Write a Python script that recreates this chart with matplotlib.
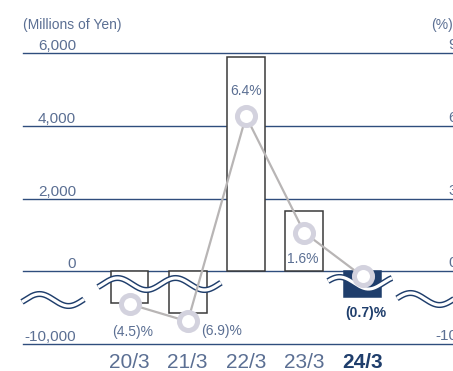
import numpy as np
import matplotlib
matplotlib.use('Agg')
import matplotlib.pyplot as plt
from matplotlib.transforms import blended_transform_factory

# =============================================================================
# DATA
# =============================================================================

YEARS = ['20/3', '21/3', '22/3', '23/3', '24/3']
NET_INCOME = [-4300, -5800, 5900, 1650, -3600]
MARGIN = [-4.5, -6.9, 6.4, 1.6, -0.7]                # %
MARGIN_LABELS = ['(4.5)%', '(6.9)%', '6.4%', '1.6%', '(0.7)%']

LEFT_TICKS = [6000, 4000, 2000, 0, -10000]
LEFT_TICK_LABELS = ['6,000', '4,000', '2,000', '0', '-10,000']
RIGHT_TICKS = [9, 6, 3, 0, -10]
RIGHT_TICK_LABELS = ['9', '6', '3', '0', '-10']

# =============================================================================
# STYLE
# =============================================================================

W, H = 453, 371
TXT = '#5b6f93'
NAVY = '#1f3e6c'
GRID = '#2f4d7d'
BAR_EDGE = '#3a3a3a'
LINE_GRAY = '#b8b5b5'
MARK_EDGE = '#d3d2de'
FONT = ['Liberation Sans', 'DejaVu Sans']

plt.rcParams['font.family'] = FONT

# label offsets in pixels (dx, dy) relative to each marker
LABEL_OFFSETS = [(3, -28), (34, -10), (0, 25), (-1, -26), (3, -37)]


def fx(px):
    return px / W


def fy(py):
    return 1 - py / H


# broken axis: positive side 2000 per band, negative side one band for 10000
def fwd_left(y):
    y = np.asarray(y, dtype=float)
    return np.where(y >= 0, y / 2000.0, y / 10000.0)


def inv_left(u):
    u = np.asarray(u, dtype=float)
    return np.where(u >= 0, u * 2000.0, u * 10000.0)


def fwd_right(y):
    y = np.asarray(y, dtype=float)
    return np.where(y >= 0, y / 3.0, y / 10.0)


def inv_right(u):
    u = np.asarray(u, dtype=float)
    return np.where(u >= 0, u * 3.0, u * 10.0)


def wave(ax, x0, x1, yc, phase_x, lam=58, amp=6.0):
    """Double wavy break mark, given in image pixels (top origin)."""
    xs = np.linspace(x0, x1, 200)
    ys = yc - amp * np.sin(2 * np.pi * (xs - phase_x) / lam)
    X, Y = fx(xs), fy(ys)
    ax.plot(X, Y, transform=ax.figure.transFigure, color=NAVY, lw=4.4,
            solid_capstyle='butt', clip_on=False, zorder=3)
    ax.plot(X, Y, transform=ax.figure.transFigure, color='white', lw=2.3,
            solid_capstyle='butt', clip_on=False, zorder=3.1)


def main():
    fig = plt.figure(figsize=(W / 100, H / 100), dpi=100)
    ax_left, ax_right = 23, 453
    top, bottom = 53.3, 344.0
    ax = fig.add_axes([fx(ax_left), fy(bottom), (ax_right - ax_left) / W,
                       (bottom - top) / H])
    x0, step = 129.5, 58.25
    ax.set_xlim((ax_left - x0) / step, (ax_right - x0) / step)

    ax.set_yscale('function', functions=(fwd_left, inv_left))
    ax.set_ylim(-10000, 6000)
    ax2 = ax.twinx()
    ax2.set_yscale('function', functions=(fwd_right, inv_right))
    ax2.set_ylim(-10, 9)

    for a in (ax, ax2):
        for s in a.spines.values():
            s.set_visible(False)
        a.set_xticks([])
        a.set_yticks([])

    # grid lines
    for v in LEFT_TICKS:
        ax.axhline(v, color=GRID, lw=1.0, zorder=1, clip_on=False)

    # bars
    x = np.arange(len(YEARS))
    colors = ['white'] * (len(YEARS) - 1) + [NAVY]
    edges = [BAR_EDGE] * (len(YEARS) - 1) + [NAVY]
    ax.bar(x, NET_INCOME, width=0.65, color=colors, edgecolor=edges,
           linewidth=1.1, zorder=2)

    # break marks
    wave(ax, 22, 84, 300, 25)
    wave(ax, 98, 221, 284, 103)
    wave(ax, 328, 392, 283, 325)
    wave(ax, 397, 456, 299, 396)

    # margin line
    ax2.plot(x, MARGIN, color=LINE_GRAY, lw=1.6, zorder=4)
    ax2.plot(x, MARGIN, ls='none', marker='o', ms=13, mew=3.6,
             mfc='white', mec=MARK_EDGE, zorder=5)
    for i, (lab, (dx, dy)) in enumerate(zip(MARGIN_LABELS, LABEL_OFFSETS)):
        last = i == len(YEARS) - 1
        ax2.annotate(lab, (x[i], MARGIN[i]), xytext=(dx, dy),
                     textcoords='offset pixels', ha='center', va='center',
                     fontsize=10, color=NAVY if last else TXT,
                     fontweight='bold' if last else 'normal', zorder=6)

    # tick labels
    lx = (76 - ax_left) / (ax_right - ax_left)
    for v, lab in zip(LEFT_TICKS, LEFT_TICK_LABELS):
        ax.annotate(lab, (lx, v), xycoords=ax.get_yaxis_transform(),
                    xytext=(0, 3), textcoords='offset pixels',
                    ha='right', va='baseline', fontsize=11, color=TXT)
    rx = (457 - ax_left) / (ax_right - ax_left)
    for v, lab in zip(RIGHT_TICKS, RIGHT_TICK_LABELS):
        ax2.annotate(lab, (rx, v), xycoords=ax2.get_yaxis_transform(),
                     xytext=(0, 4), textcoords='offset pixels',
                     ha='right', va='baseline', fontsize=11, color=TXT)

    fig.text(fx(23), fy(29), '(Millions of Yen)', ha='left', va='baseline',
             fontsize=10, color=TXT)
    fig.text(fx(453), fy(29), '(%)', ha='right', va='baseline',
             fontsize=10, color=TXT)

    # category labels
    cat_tr = blended_transform_factory(ax.transData, fig.transFigure)
    for i, yr in enumerate(YEARS):
        last = i == len(YEARS) - 1
        ax.text(x[i], fy(367.5), yr, transform=cat_tr,
                ha='center', va='baseline', fontsize=15,
                color=NAVY if last else TXT,
                fontweight='bold' if last else 'normal')

    fig.savefig('out.png', dpi=100)
    plt.close(fig)


if __name__ == '__main__':
    main()
